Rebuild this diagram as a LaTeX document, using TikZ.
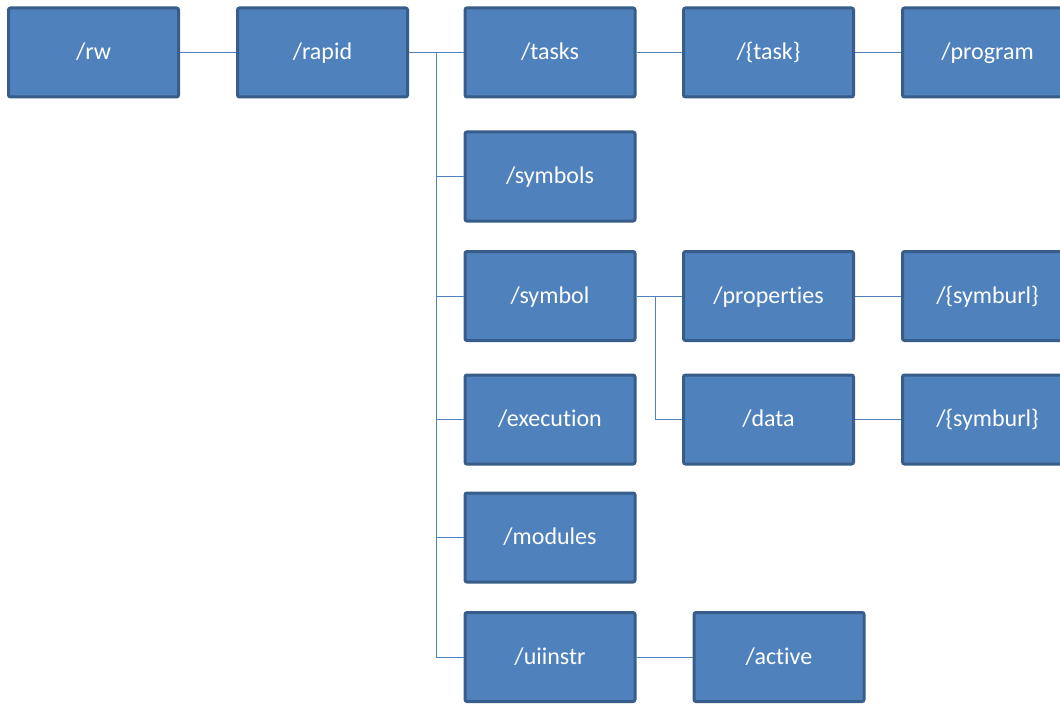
\documentclass[tikz,border=0pt]{standalone}
\usepackage{fontspec}
\setmainfont{Carlito}[Ligatures={NoCommon}, RawFeature={-liga}]
\usetikzlibrary{positioning}
\definecolor{boxfill}{HTML}{4F81BD}
\definecolor{boxedge}{HTML}{385D8A}
\definecolor{linkblue}{HTML}{4F81BD}
\tikzset{
  dirbox/.style={draw=boxedge, fill=boxfill, line width=3pt, rounded corners=2pt,
    minimum width=170pt, minimum height=89pt, text=white,
    text height=19pt, text depth=5pt,
    font=\fontsize{24}{28}\selectfont, inner sep=0pt},
  link/.style={draw=linkblue, line width=0.9pt}
}
\begin{document}
\begin{tikzpicture}[x=1pt, y=-1pt]
    \clip (0,0) rectangle (1060,706);
    \useasboundingbox (0,0) rectangle (1060,706);
    % resource tree boxes
    \foreach \nm/\px/\py/\lbl in {
      rw/93.5/52.5/{/rw},
      rapid/322.5/52.5/{/rapid},
      tasks/550/52.5/{/tasks},
      task/768.5/52.5/{/\{task\}},
      program/987.5/52.5/{/program},
      symbols/550/176.5/{/symbols},
      symbol/550/296/{/symbol},
      properties/768.5/296/{/properties},
      symburlA/987.5/296/{/\{symburl\}},
      execution/550/419.5/{/execution},
      data/768.5/419.5/{/data},
      symburlB/987.5/419.5/{/\{symburl\}},
      modules/550/537.5/{/modules},
      uiinstr/550/657/{/uiinstr},
      active/779/657/{/active}%
    }{
      \node[dirbox] (\nm) at (\px,\py) {\lbl};
    }
    % connectors
    \coordinate (spine) at (436,52.5);
    \coordinate (fork) at (655,296);
    \draw[link] (rw) -- (rapid);
    \draw[link] (rapid) -- (tasks);
    \draw[link] (tasks) -- (task);
    \draw[link] (task) -- (program);
    \foreach \kid in {symbols, symbol, execution, modules, uiinstr}
      \draw[link] (spine) |- (\kid.west);
    \draw[link] (symbol) -- (properties);
    \draw[link] (fork) |- (data.west);
    \draw[link] (properties) -- (symburlA);
    \draw[link] (data) -- (symburlB);
    \draw[link] (uiinstr) -- (active);
\end{tikzpicture}
\end{document}
